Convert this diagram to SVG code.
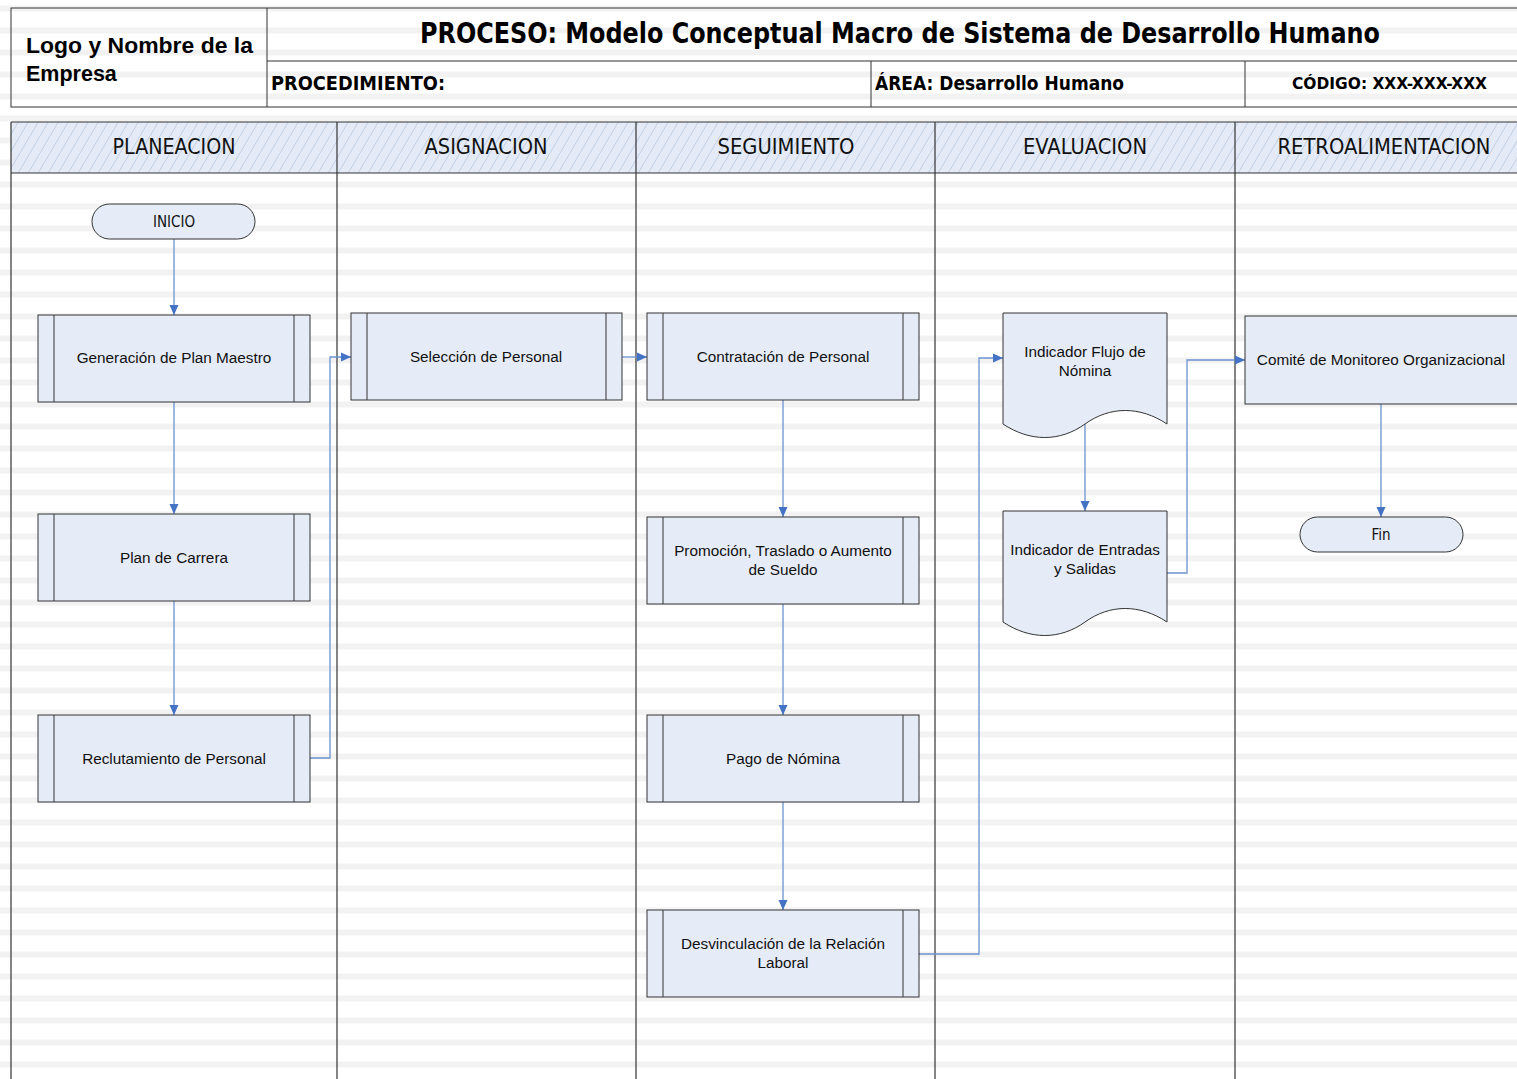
<svg xmlns="http://www.w3.org/2000/svg" width="1517" height="1079" viewBox="0 0 1517 1079">
  <defs>
    <!-- horizontal band background -->
    <pattern id="bands" x="0" y="5.5" width="1517" height="22" patternUnits="userSpaceOnUse">
      <rect x="0" y="0" width="1517" height="6" fill="#f2f2f2"/>
    </pattern>
    <!-- diagonal hatch for lane headers -->
    <pattern id="hatch" x="0" y="0" width="10" height="17" patternUnits="userSpaceOnUse">
      <rect width="10" height="17" fill="#e4ebf6"/>
      <line x1="-1" y1="18.7" x2="11" y2="-1.7" stroke="#b7c6de" stroke-width="0.8"/>
    </pattern>
    <marker id="arrow" viewBox="0 0 10 10" refX="10" refY="5" markerWidth="10" markerHeight="10" markerUnits="userSpaceOnUse" orient="auto">
      <path d="M0,0.5 L10,5 L0,9.5 z" fill="#4472c4"/>
    </marker>
    <style>
      .hdr-line { stroke: #333; stroke-width: 1; fill: none; }
      .lane { stroke: #333; stroke-width: 1.2; fill: none; }
      .proc { fill: #e6ecf7; stroke: #333; stroke-width: 1; }
      .bar { stroke: #333; stroke-width: 1; }
      .term { fill: #e6ecf7; stroke: #333; stroke-width: 1; }
      .doc { fill: #e6ecf7; stroke: #333; stroke-width: 1; }
      .conn { fill: none; stroke: #6a93d0; stroke-width: 1.3; marker-end: url(#arrow); }
      .t { font-family: "Liberation Sans", Arial, sans-serif; font-size: 15.3px; fill: #111; text-anchor: middle; }
      .tt { font-family: "DejaVu Sans Condensed", "DejaVu Sans", sans-serif; font-size: 15px; fill: #111; text-anchor: middle; }
      .lanet { font-family: "DejaVu Sans Condensed", "DejaVu Sans", sans-serif; font-size: 21px; fill: #111; text-anchor: middle; }
      .hb { font-family: "DejaVu Sans Condensed", "DejaVu Sans", sans-serif; font-weight: bold; fill: #000; }
      .logo { font-family: "Liberation Sans", Arial, sans-serif; font-weight: bold; font-size: 21.5px; fill: #000; }
    </style>
  </defs>

  <!-- page background -->
  <rect width="1517" height="1079" fill="#ffffff"/>
  <rect width="1517" height="1079" fill="url(#bands)"/>

  <!-- title block -->
  <g id="title-block">
    <rect x="11" y="8" width="1510" height="99" fill="#ffffff" class="hdr-line"/>
    <line x1="267" y1="8" x2="267" y2="107" class="hdr-line"/>
    <line x1="267" y1="61" x2="1517" y2="61" class="hdr-line"/>
    <line x1="871" y1="61" x2="871" y2="107" class="hdr-line"/>
    <line x1="1245" y1="61" x2="1245" y2="107" class="hdr-line"/>
    <text class="logo" x="26" y="53" textLength="227" lengthAdjust="spacingAndGlyphs">Logo y Nombre de la</text>
    <text class="logo" x="26" y="81">Empresa</text>
    <text class="hb" x="420" y="43" font-size="28" textLength="960" lengthAdjust="spacingAndGlyphs">PROCESO: Modelo Conceptual Macro de Sistema de Desarrollo Humano</text>
    <text class="hb" x="271" y="90" font-size="19" textLength="174" lengthAdjust="spacingAndGlyphs">PROCEDIMIENTO:</text>
    <text class="hb" x="875" y="90" font-size="19" textLength="249" lengthAdjust="spacingAndGlyphs">ÁREA: Desarrollo Humano</text>
    <text class="hb" x="1292" y="89" font-size="16.5" textLength="195" lengthAdjust="spacingAndGlyphs">CÓDIGO: XXX-XXX-XXX</text>
  </g>

  <!-- swimlanes -->
  <g id="lanes">
    <rect x="11" y="122" width="1510" height="51" fill="url(#hatch)"/>
    <line x1="11" y1="122" x2="1517" y2="122" class="lane"/>
    <line x1="11" y1="173" x2="1517" y2="173" class="lane"/>
    <line x1="11" y1="122" x2="11" y2="1079" class="lane" stroke="#555"/>
    <line x1="337" y1="122" x2="337" y2="1079" class="lane"/>
    <line x1="636" y1="122" x2="636" y2="1079" class="lane"/>
    <line x1="935" y1="122" x2="935" y2="1079" class="lane"/>
    <line x1="1235" y1="122" x2="1235" y2="1079" class="lane"/>
    <text class="lanet" x="174" y="154" textLength="123" lengthAdjust="spacingAndGlyphs">PLANEACION</text>
    <text class="lanet" x="486" y="154" textLength="123" lengthAdjust="spacingAndGlyphs">ASIGNACION</text>
    <text class="lanet" x="786" y="154" textLength="137" lengthAdjust="spacingAndGlyphs">SEGUIMIENTO</text>
    <text class="lanet" x="1085" y="154" textLength="124" lengthAdjust="spacingAndGlyphs">EVALUACION</text>
    <text class="lanet" x="1384" y="154" textLength="213" lengthAdjust="spacingAndGlyphs">RETROALIMENTACION</text>
  </g>

  <!-- connectors -->
  <g id="connectors">
    <path class="conn" d="M174,239 V315"/>
    <path class="conn" d="M174,402 V514"/>
    <path class="conn" d="M174,601 V715"/>
    <path class="conn" d="M310,758 H330 V357 H351"/>
    <path class="conn" d="M622,357 H647"/>
    <path class="conn" d="M783,400 V517"/>
    <path class="conn" d="M783,604 V715"/>
    <path class="conn" d="M783,802 V910"/>
    <path class="conn" d="M919,954 H979 V358 H1003"/>
    <path class="conn" d="M1085,424 V511"/>
    <path class="conn" d="M1167,573 H1187 V360 H1245"/>
    <path class="conn" d="M1381,404 V517"/>
  </g>

  <!-- nodes -->
  <g id="inicio">
    <rect class="term" x="92" y="204" width="163" height="35" rx="17.5"/>
    <text class="tt" x="174" y="227">INICIO</text>
  </g>

  <g id="generacion-plan-maestro">
    <rect class="proc" x="38" y="315" width="272" height="87"/>
    <line class="bar" x1="54" y1="315" x2="54" y2="402"/>
    <line class="bar" x1="294" y1="315" x2="294" y2="402"/>
    <text class="t" x="174" y="363">Generación de Plan Maestro</text>
  </g>

  <g id="plan-carrera">
    <rect class="proc" x="38" y="514" width="272" height="87"/>
    <line class="bar" x1="54" y1="514" x2="54" y2="601"/>
    <line class="bar" x1="294" y1="514" x2="294" y2="601"/>
    <text class="t" x="174" y="563">Plan de Carrera</text>
  </g>

  <g id="reclutamiento">
    <rect class="proc" x="38" y="715" width="272" height="87"/>
    <line class="bar" x1="54" y1="715" x2="54" y2="802"/>
    <line class="bar" x1="294" y1="715" x2="294" y2="802"/>
    <text class="t" x="174" y="764">Reclutamiento de Personal</text>
  </g>

  <g id="seleccion">
    <rect class="proc" x="351" y="313" width="271" height="87"/>
    <line class="bar" x1="367" y1="313" x2="367" y2="400"/>
    <line class="bar" x1="606" y1="313" x2="606" y2="400"/>
    <text class="t" x="486" y="362">Selección de Personal</text>
  </g>

  <g id="contratacion">
    <rect class="proc" x="647" y="313" width="272" height="87"/>
    <line class="bar" x1="663" y1="313" x2="663" y2="400"/>
    <line class="bar" x1="903" y1="313" x2="903" y2="400"/>
    <text class="t" x="783" y="362">Contratación de Personal</text>
  </g>

  <g id="promocion">
    <rect class="proc" x="647" y="517" width="272" height="87"/>
    <line class="bar" x1="663" y1="517" x2="663" y2="604"/>
    <line class="bar" x1="903" y1="517" x2="903" y2="604"/>
    <text class="t" x="783" y="556">Promoción, Traslado o Aumento</text>
    <text class="t" x="783" y="575">de Sueldo</text>
  </g>

  <g id="pago-nomina">
    <rect class="proc" x="647" y="715" width="272" height="87"/>
    <line class="bar" x1="663" y1="715" x2="663" y2="802"/>
    <line class="bar" x1="903" y1="715" x2="903" y2="802"/>
    <text class="t" x="783" y="764">Pago de Nómina</text>
  </g>

  <g id="desvinculacion">
    <rect class="proc" x="647" y="910" width="272" height="87"/>
    <line class="bar" x1="663" y1="910" x2="663" y2="997"/>
    <line class="bar" x1="903" y1="910" x2="903" y2="997"/>
    <text class="t" x="783" y="949">Desvinculación de la Relación</text>
    <text class="t" x="783" y="968">Laboral</text>
  </g>

  <g id="indicador-flujo-nomina">
    <path class="doc" d="M1003,313 H1167 V424 C1140,406 1110,406 1085,424 C1060,442 1030,442 1003,424 Z"/>
    <text class="t" x="1085" y="357">Indicador Flujo de</text>
    <text class="t" x="1085" y="376">Nómina</text>
  </g>

  <g id="indicador-entradas-salidas">
    <path class="doc" d="M1003,511 H1167 V622 C1140,604 1110,604 1085,622 C1060,640 1030,640 1003,622 Z"/>
    <text class="t" x="1085" y="555">Indicador de Entradas</text>
    <text class="t" x="1085" y="574">y Salidas</text>
  </g>

  <g id="comite-monitoreo">
    <rect class="proc" x="1245" y="316" width="276" height="88"/>
    <text class="t" x="1381" y="365">Comité de Monitoreo Organizacional</text>
  </g>

  <g id="fin">
    <rect class="term" x="1300" y="517" width="163" height="35" rx="17.5"/>
    <text class="tt" x="1381" y="540">Fin</text>
  </g>
</svg>
